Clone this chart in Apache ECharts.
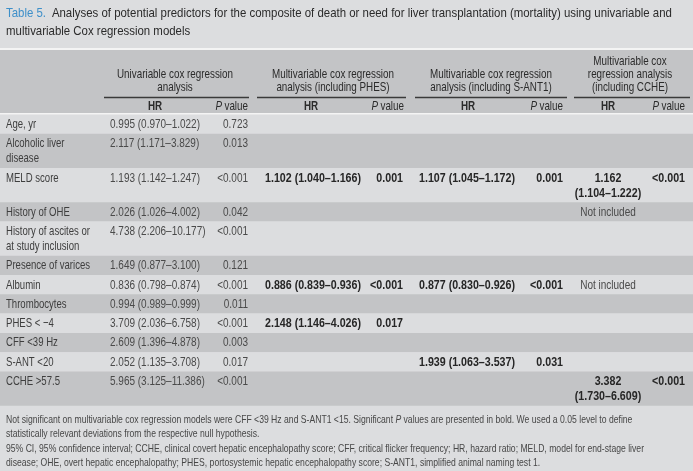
<!DOCTYPE html>
<html><head><meta charset="utf-8">
<script src="https://cdn.jsdelivr.net/npm/echarts@6/dist/echarts.min.js"></script>
<style>html,body{margin:0;padding:0;background:#dcdddf}#c{width:693px;height:471px}</style>
</head><body><div id="c"></div>
<script>
// ---------- data ----------
const tableNo = 'Table 5.';
const titleLines = [
  'Analyses of potential predictors for the composite of death or need for liver transplantation (mortality) using univariable and',
  'multivariable Cox regression models'
];
const groupHeaders = [
  'Univariable cox regression\nanalysis',
  'Multivariable cox regression\nanalysis (including PHES)',
  'Multivariable cox regression\nanalysis (including S-ANT1)',
  'Multivariable cox\nregression analysis\n(including CCHE)'
];
const subHeaders = ['HR', 'P value'];
const rowLabels = [
  'Age, yr', 'Alcoholic liver\ndisease', 'MELD score', 'History of OHE',
  'History of ascites or\nat study inclusion', 'Presence of varices', 'Albumin',
  'Thrombocytes', 'PHES < \u22124', 'CFF <39 Hz', 'S-ANT <20', 'CCHE >57.5'
];
const uniHR = ['0.995 (0.970\u20131.022)', '2.117 (1.171\u20133.829)', '1.193 (1.142\u20131.247)',
  '2.026 (1.026\u20134.002)', '4.738 (2.206\u201310.177)', '1.649 (0.877\u20133.100)',
  '0.836 (0.798\u20130.874)', '0.994 (0.989\u20130.999)', '3.709 (2.036\u20136.758)',
  '2.609 (1.396\u20134.878)', '2.052 (1.135\u20133.708)', '5.965 (3.125\u201311.386)'];
const uniP = ['0.723', '0.013', '<0.001', '0.042', '<0.001', '0.121', '<0.001', '0.011', '<0.001', '0.003', '0.017', '<0.001'];
const phesHR = ['', '', '1.102 (1.040\u20131.166)', '', '', '', '0.886 (0.839\u20130.936)', '', '2.148 (1.146\u20134.026)', '', '', ''];
const phesP = ['', '', '0.001', '', '', '', '<0.001', '', '0.017', '', '', ''];
const santHR = ['', '', '1.107 (1.045\u20131.172)', '', '', '', '0.877 (0.830\u20130.926)', '', '', '', '1.939 (1.063\u20133.537)', ''];
const santP = ['', '', '0.001', '', '', '', '<0.001', '', '', '', '0.031', ''];
const ccheHR = ['', '', '1.162\n(1.104\u20131.222)', 'Not included', '', '', 'Not included', '', '', '', '', '3.382\n(1.730\u20136.609)'];
const ccheP = ['', '', '<0.001', '', '', '', '', '', '', '', '', '<0.001'];
const notInc = 'Not included';
const notes = [
  ['Not significant on multivariable cox regression models were CFF <39 Hz and S-ANT1 <15. Significant ', 'P', ' values are presented in bold. We used a 0.05 level to define'],
  ['statistically relevant deviations from the respective null hypothesis.'],
  ['95% CI, 95% confidence interval; CCHE, clinical covert hepatic encephalopathy score; CFF, critical flicker frequency; HR, hazard ratio; MELD, model for end-stage liver'],
  ['disease; OHE, overt hepatic encephalopathy; PHES, portosystemic hepatic encephalopathy score; S-ANT1, simplified animal naming test 1.']
];

// ---------- layout / style ----------
const W = 693, H = 471;
const FONT = "'Liberation Sans', Arial, sans-serif";
const LIGHT = '#dcdddf', DARK = '#c3c4c6';
const mctx = document.createElement('canvas').getContext('2d');
function fit(text, font, target) { mctx.font = font; return target / mctx.measureText(text).width; }

const F_BODY = '13px ' + FONT, F_BOLD = 'bold 13px ' + FONT;
const S_LABEL = fit('History of ascites or', F_BODY, 84);
const S_NUM = fit('0.995 (0.970\u20131.022)', F_BODY, 90);
const S_BOLD = fit('1.102 (1.040\u20131.166)', F_BOLD, 96);
const F_HEAD = '13px ' + FONT;
const S_HEAD = fit('Multivariable cox regression', F_HEAD, 122);
const F_TITLE = '13px ' + FONT;
const S_TITLE = fit(titleLines[0], F_TITLE, 620);
const F_NOTE = '11px ' + FONT;
const S_NOTE = fit(notes[2][0], F_NOTE, 638);

const columns = [
  {arr: rowLabels, x: 6, align: 'left', bold: false, color: '#3e3e3e', s: S_LABEL},
  {arr: uniHR, x: 110, align: 'left', bold: false, color: '#4a4a4a', s: S_NUM},
  {arr: uniP, x: 248, align: 'right', bold: false, color: '#4a4a4a', s: S_NUM},
  {arr: phesHR, x: 265, align: 'left', bold: true},
  {arr: phesP, x: 403, align: 'right', bold: true},
  {arr: santHR, x: 419, align: 'left', bold: true},
  {arr: santP, x: 563, align: 'right', bold: true},
  {arr: ccheHR, x: 608, align: 'center', bold: true},
  {arr: ccheP, x: 685, align: 'right', bold: true}
];
const groups = [
  {c: 175, x0: 104, x1: 249, hr: 155, p: 248},
  {c: 333, x0: 257, x1: 406, hr: 311, p: 404},
  {c: 491, x0: 415, x1: 567, hr: 468, p: 563},
  {c: 630, x0: 574, x1: 690, hr: 608, p: 685}
];
const ROW0 = 114.5, SINGLE = 19.3, DOUBLE = 34.2, LINE = 15;

// row geometry from content line counts
const rowGeom = [];
let yy = ROW0;
rowLabels.forEach((_, i) => {
  const n = Math.max(...columns.map(c => (c.arr[i] || '').split('\n').length));
  const h = n > 1 ? SINGLE + (n - 1) * (DOUBLE - SINGLE) : SINGLE;
  rowGeom.push([yy, yy + h]);
  yy += h;
});
const tableEnd = yy;

const bandData = rowGeom.map((g, i) => [g[0], g[1], i]);
const cellData = [];
columns.forEach((c, ci) => c.arr.forEach((t, ri) => { if (t) cellData.push([ci, ri]); }));

const chart = echarts.init(document.getElementById('c'), null, {renderer: 'canvas'});
chart.setOption({
  animation: false,
  backgroundColor: LIGHT,
  grid: {left: 0, right: 0, top: 0, bottom: 0},
  xAxis: {type: 'value', min: 0, max: W, show: false},
  yAxis: {type: 'value', min: 0, max: H, inverse: true, show: false},
  graphic: [
    {type: 'rect', shape: {x: 0, y: 48, width: W, height: 2}, style: {fill: '#f4f4f4'}, z: 5},
    {type: 'rect', shape: {x: 0, y: 50, width: W, height: 63}, style: {fill: DARK}, z: 5},
    {type: 'rect', shape: {x: 0, y: 113, width: W, height: 1.5}, style: {fill: '#f4f4f4'}, z: 5},
    {type: 'text', x: 6, y: 4, scaleX: S_TITLE, z: 10, style: {
      text: '{b|' + tableNo + '}  {t|' + titleLines[0] + '}\n{t|' + titleLines[1] + '}',
      rich: {
        b: {fill: '#3d8fc9', font: F_TITLE, lineHeight: 18},
        t: {fill: '#2b2b2b', font: F_TITLE, lineHeight: 18}
      }
    }},
    {type: 'text', x: 6, y: tableEnd + 7, scaleX: S_NOTE, z: 10, style: {
      text: notes.map(l => l.map(s => (s === 'P' ? '{i|P}' : '{n|' + s + '}')).join('')).join('\n'),
      rich: {
        n: {fill: '#474747', font: F_NOTE, lineHeight: 14.5},
        i: {fill: '#474747', font: 'italic ' + F_NOTE, lineHeight: 14.5}
      }
    }}
  ],
  series: [
    {
      type: 'custom', z: 1, data: bandData, silent: true,
      renderItem: (params, api) => {
        const a = api.coord([0, api.value(0)]), b = api.coord([W, api.value(1)]);
        return {type: 'rect', shape: {x: a[0], y: a[1], width: b[0] - a[0], height: b[1] - a[1]},
          style: {fill: api.value(2) % 2 === 0 ? LIGHT : DARK}};
      }
    },
    {
      type: 'custom', z: 6, data: groups.map((g, i) => [i]), silent: true,
      renderItem: (params, api) => {
        const i = api.value(0), g = groups[i];
        const nl = groupHeaders[i].split('\n').length;
        const top = api.coord([g.c, 94.5 - nl * 13.3]);
        const l0 = api.coord([g.x0, 97.5]), l1 = api.coord([g.x1, 97.5]);
        const sub = api.coord([g.hr, 106.5]), subP = api.coord([g.p, 106.5]);
        return {type: 'group', children: [
          {type: 'text', x: top[0], y: top[1], scaleX: S_HEAD, style: {text: groupHeaders[i], fill: '#2b2b2b',
            font: F_HEAD, align: 'center', verticalAlign: 'top', lineHeight: 13.3}},
          {type: 'line', shape: {x1: l0[0], y1: l0[1], x2: l1[0], y2: l1[1]}, style: {stroke: '#3a3a3a', lineWidth: 1.6}},
          {type: 'text', x: sub[0], y: sub[1], scaleX: S_HEAD, style: {text: subHeaders[0], fill: '#2b2b2b',
            font: 'bold ' + F_HEAD, align: 'center', verticalAlign: 'middle'}},
          {type: 'text', x: subP[0], y: subP[1], scaleX: S_HEAD, style: {text: '{i|P} {n|value}',
            align: 'right', verticalAlign: 'middle',
            rich: {i: {fill: '#2b2b2b', font: 'italic ' + F_HEAD}, n: {fill: '#2b2b2b', font: F_HEAD}}}}
        ]};
      }
    },
    {
      type: 'custom', z: 7, data: cellData, silent: true,
      renderItem: (params, api) => {
        const c = columns[api.value(0)], ri = api.value(1);
        const txt = c.arr[ri];
        const bold = c.bold && txt !== notInc;
        const p = api.coord([c.x, rowGeom[ri][0] + 2.5]);
        return {type: 'text', x: p[0], y: p[1], scaleX: bold ? S_BOLD : (c.s || S_NUM), style: {
          text: txt, align: c.align, verticalAlign: 'top', lineHeight: LINE,
          fill: bold ? '#262626' : (c.color || '#4a4a4a'),
          font: bold ? F_BOLD : F_BODY
        }};
      }
    }
  ]
});
</script></body></html>
